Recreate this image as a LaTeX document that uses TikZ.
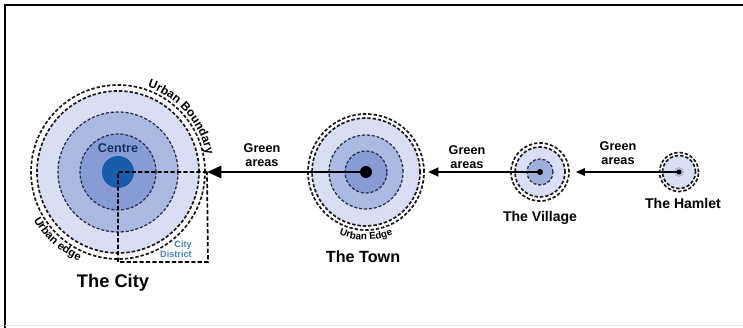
\documentclass[tikz,border=0pt]{standalone}
\usepackage{fontspec}
\setmainfont{Liberation Sans}
\usetikzlibrary{arrows.meta,decorations.text}
\definecolor{LiteBlue}{RGB}{218,222,242}
\definecolor{MidBlue}{RGB}{172,185,226}
\definecolor{DeepBlue}{RGB}{135,156,212}
\definecolor{CoreBlue}{RGB}{25,94,170}
\definecolor{LabBlue}{RGB}{60,130,210}
\definecolor{NavyText}{RGB}{25,50,100}
\definecolor{RingInk}{RGB}{40,48,80}
\tikzset{
  ring/.style={draw=black!90,line width=1.2pt,dash pattern=on 2.4pt off 1.4pt},
  thinring/.style={draw=RingInk,line width=0.9pt,dash pattern=on 2.2pt off 1.3pt},
  flow/.style={draw=black,-{Triangle[length=3.6mm,width=3mm]}},
  lab/.style={font=\bfseries\fontsize{9}{10}\selectfont,align=center,inner sep=0pt},
  title/.style={font=\bfseries\fontsize{10}{12}\selectfont,inner sep=0pt},
  curved/.style={decorate,decoration={text along path,text align=center,text={#1}}},
}

\begin{document}
\begin{tikzpicture}[x=0.025cm,y=0.025cm]
\useasboundingbox (0,0) rectangle (743,328);
\draw[line width=1.2pt] (5,0) -- (5,323) -- (743,323);
\draw[black!10,line width=0.6pt] (5,3) -- (743,3);
\coordinate (city) at (118,156);
\coordinate (town) at (366,156);
\coordinate (village) at (540,156);
\coordinate (hamlet) at (679,156);
\coordinate (citytip) at (207,156);
\coordinate (towntip) at (428,156);
\coordinate (villagetip) at (576,156);
\coordinate (district) at (208,66);
% the city
\fill[LiteBlue] (city) circle[radius=81];
\draw[ring] (city) circle[radius=87];
\draw[ring] (city) circle[radius=81];
\fill[MidBlue] (city) circle[radius=60];
\draw[thinring] (city) circle[radius=60];
\fill[DeepBlue] (city) circle[radius=38];
\draw[thinring] (city) circle[radius=38];
\fill[CoreBlue] (city) circle[radius=16];
\draw[line width=1.2pt,dash pattern=on 3pt off 1.6pt] (citytip) -- (city) |- (district) -- (citytip);
% the town
\fill[LiteBlue] (town) circle[radius=54];
\draw[ring] (town) circle[radius=58];
\draw[ring] (town) circle[radius=54];
\fill[MidBlue] (town) circle[radius=37];
\draw[thinring] (town) circle[radius=37];
\fill[DeepBlue] (town) circle[radius=21];
\draw[thinring] (town) circle[radius=21];
% the village
\fill[LiteBlue] (village) circle[radius=25];
\draw[ring] (village) circle[radius=29];
\draw[ring] (village) circle[radius=25];
\fill[DeepBlue!80] (village) circle[radius=13];
\draw[thinring] (village) circle[radius=13];
% the hamlet
\fill[LiteBlue] (hamlet) circle[radius=16.5];
\draw[ring] (hamlet) circle[radius=19.5];
\draw[ring] (hamlet) circle[radius=16.5];
\fill[MidBlue] (hamlet) circle[radius=5];
% flows
\draw[flow,line width=2pt] (town) -- (citytip);
\draw[flow,line width=1.3pt,-{Triangle[length=2.6mm,width=2.2mm]}] (village) -- (towntip);
\draw[flow,line width=0.9pt,-{Triangle[length=2.2mm,width=1.9mm]}] (hamlet) -- (villagetip);
\fill (town) circle[radius=6];
\fill (village) circle[radius=3];
\fill (hamlet) circle[radius=2.5];
% labels
\node[lab,text=NavyText] (centre) at (118,180) {Centre};
\node[lab,text=LabBlue,anchor=east,font=\bfseries\fontsize{6.5}{7}\selectfont,align=right] (citydistrict) at (192,79) {City\\District};
\node[lab] (green1) at (262,173) {Green\\areas};
\node[lab] (green2) at (467,171) {Green\\areas};
\node[lab] (green3) at (618,175) {Green\\areas};
\node[title,font=\bfseries\fontsize{13}{14}\selectfont] (citylab) at (113,45) {The City};
\node[title,font=\bfseries\fontsize{11.5}{13}\selectfont] (townlab) at (363,71) {The Town};
\node[title] (villagelab) at (540,110) {The Village};
\node[title] (hamletlab) at (683,125) {The Hamlet};
\path[curved={|\bfseries\fontsize{8.5}{8.5}\selectfont|Urban Boundary}] (city) ++(82:90) arc[start angle=82,end angle=0,radius=90];
\path[curved={|\bfseries\fontsize{8}{8}\selectfont|Urban edge}] (city) ++(200:97) arc[start angle=200,end angle=256,radius=97];
\path[curved={|\bfseries\fontsize{7}{7}\selectfont|Urban Edge}] (town) ++(238:68) arc[start angle=238,end angle=302,radius=68];
\end{tikzpicture}
\end{document}
